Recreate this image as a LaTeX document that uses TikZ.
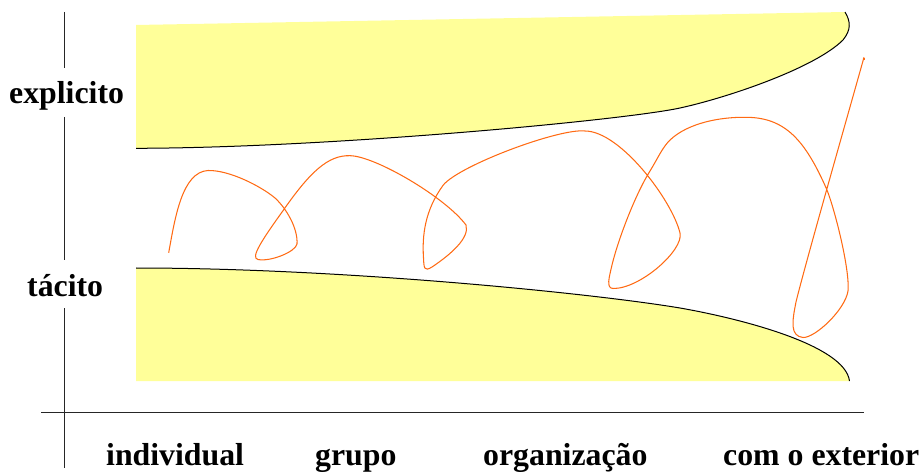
\documentclass[tikz,border=0pt]{standalone}
\usepackage{fontspec}
\setmainfont{Liberation Serif}
\definecolor{paleyellow}{HTML}{FFFF99}
\definecolor{spiral}{HTML}{FF6A13}
\tikzset{
  lab/.style={anchor=base west,inner sep=0pt,font=\fontsize{31.8}{36}\selectfont\bfseries,text=black},
  axisline/.style={draw=black!85,line width=0.8pt},
  edge/.style={draw=black,line width=1pt},
  spiralline/.style={draw=spiral,line width=1.05pt,line join=round}
}
\begin{document}
\begin{tikzpicture}[x=1pt,y=-1pt]
\useasboundingbox (0,0) rectangle (924,473);
% yellow bands
\fill[paleyellow] (136,25) -- (845,12) .. controls (851,22) and (851,30) .. (843,40)
  .. controls (815,68) and (728,97.5) .. (680,108) .. controls (625,120) and (330,148) .. (136,148.3) -- cycle;
\draw[edge] (845,12) .. controls (851,22) and (851,30) .. (843,40)
  .. controls (815,68) and (728,97.5) .. (680,108) .. controls (625,120) and (330,148) .. (136,148.3);
\fill[paleyellow] (136,268) .. controls (340,268) and (590,293) .. (680,308)
  .. controls (740,318.5) and (845,345) .. (849.5,381) -- (136,381) -- cycle;
\draw[edge] (136,268) .. controls (340,268) and (590,293) .. (680,308)
  .. controls (740,318.5) and (845,345) .. (849.5,381);
% axes
\coordinate (vtop) at (64,12);
\coordinate (vgap1a) at (64,68);
\coordinate (vgap1b) at (64,117);
\coordinate (vgap2a) at (64,260);
\coordinate (vgap2b) at (64,308);
\coordinate (vbot) at (64,468);
\coordinate (hleft) at (41,412);
\coordinate (hright) at (864,412);
\draw[axisline] (vtop) -- (vgap1a);
\draw[axisline] (vgap1b) -- (vgap2a);
\draw[axisline] (vgap2b) -- (vbot);
\draw[axisline] (hleft) -- (hright);
% spiral
\draw[spiralline] (168.7,252.7)
 .. controls (175,218) and (182,172) .. (208,170.5)
 .. controls (230,170) and (262,187) .. (275,198)
 .. controls (286,208) and (298,228) .. (297,244)
 .. controls (295.5,252) and (270,262) .. (258,259.5)
 .. controls (250,258) and (262,240) .. (283,210.7)
 .. controls (310,172) and (328,155) .. (350,155.7)
 .. controls (375,156) and (445,197) .. (466,225)
 .. controls (470,238) and (450,255) .. (432,267)
 .. controls (424,272) and (424,268) .. (423.5,258)
 .. controls (422,235) and (425,210) .. (443.3,185)
 .. controls (460,165) and (560,128) .. (585,131)
 .. controls (620,131) and (672,200) .. (680,233)
 .. controls (684,250) and (640,289) .. (613,288.5)
 .. controls (606,288) and (609,278) .. (612,265)
 .. controls (618,240) and (635,195) .. (650,171)
 .. controls (658,158) and (662,148) .. (670,140)
 .. controls (688,123) and (720,117) .. (745,117.3)
 .. controls (785,117) and (805,140) .. (826.7,189.3)
 .. controls (835,210) and (850,270) .. (848,291)
 .. controls (845,310) and (815,338) .. (803,337.5)
 .. controls (790,336) and (792,322) .. (796,302)
 .. controls (805,265) and (845,125) .. (864,57.3);
\draw[spiralline] (862.5,59) -- (865,59);
% labels
\node[lab] (explicito) at (9,104) {explicito};
\node[lab] (tacito) at (27,296) {tácito};
\node[lab] (individual) at (106,465) {individual};
\node[lab] (grupo) at (315,465) {grupo};
\node[lab] (organizacao) at (483,465) {organização};
\node[lab] (exterior) at (723,465) {com o exterior};
\end{tikzpicture}
\end{document}
